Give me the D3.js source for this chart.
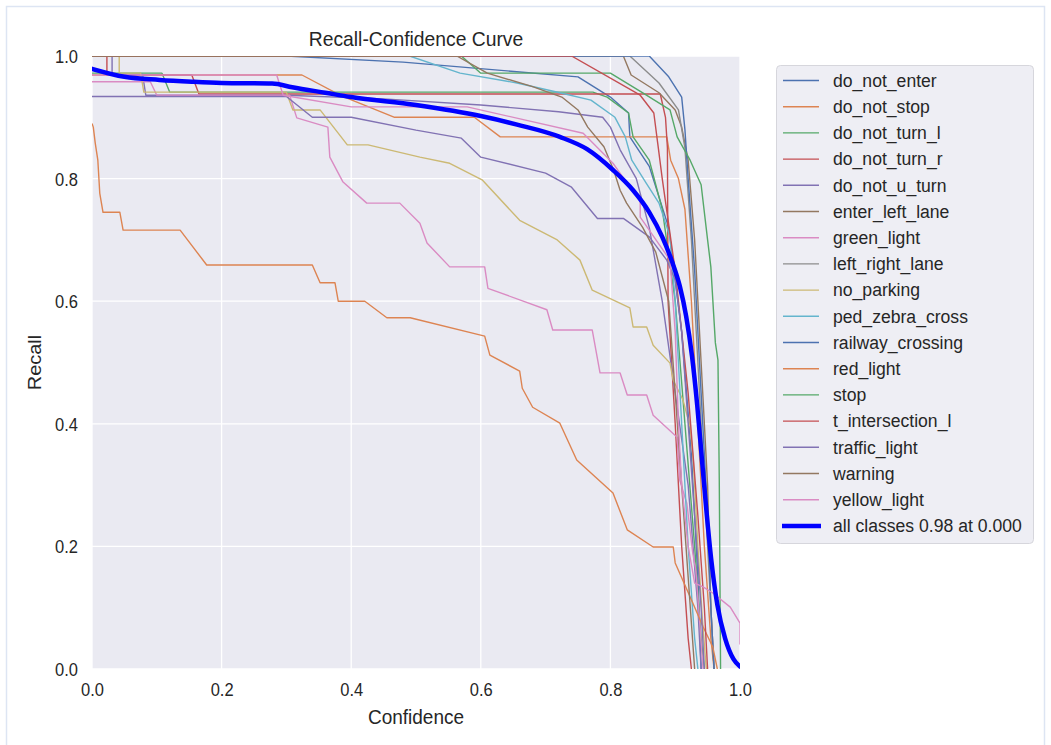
<!DOCTYPE html>
<html><head><meta charset="utf-8">
<script src="https://cdn.jsdelivr.net/npm/d3@7"></script>
<style>
body{margin:0;background:#fff;}
text{font-family:"Liberation Sans",Arial,sans-serif;fill:#262626;}
</style></head>
<body>
<svg id="chart" width="1051" height="745"></svg>
<script>
// ---------- data (confidence, recall) ----------
const classNames = ["do_not_enter","do_not_stop","do_not_turn_l","do_not_turn_r","do_not_u_turn","enter_left_lane","green_light","left_right_lane","no_parking","ped_zebra_cross","railway_crossing","red_light","stop","t_intersection_l","traffic_light","warning","yellow_light"];
const do_not_enter = [[0,1],[0.3,1],[0.48,0.99],[0.75,0.966],[0.8,0.933],[0.828,0.907],[0.83,0.868],[0.86,0.82],[0.89,0.72],[0.91,0.55],[0.925,0.35],[0.935,0.15],[0.94,0]];
const do_not_stop = [[0,0.969],[0.324,0.969],[0.385,0.935],[0.467,0.9],[0.59,0.9],[0.63,0.868],[0.887,0.868],[0.893,0.83],[0.905,0.8],[0.915,0.75],[0.925,0.6],[0.935,0.4],[0.945,0.2],[0.955,0.05],[0.96,0]];
const do_not_turn_l = [[0,0.972],[0.108,0.972],[0.12,0.941],[0.773,0.941],[0.795,0.933],[0.828,0.907],[0.835,0.868],[0.86,0.83],[0.88,0.75],[0.9,0.6],[0.915,0.4],[0.93,0.2],[0.94,0.05],[0.945,0]];
const do_not_turn_r = [[0,1],[0.023,1],[0.023,0.969],[0.154,0.969],[0.165,0.938],[0.877,0.938],[0.885,0.9],[0.888,0.85],[0.889,0.6],[0.9,0.4],[0.91,0.2],[0.92,0.05],[0.925,0]];
const do_not_u_turn = [[0,1],[0.031,1],[0.031,0.97],[0.078,0.97],[0.083,0.936],[0.3,0.936],[0.45,0.93],[0.6,0.92],[0.72,0.909],[0.788,0.9],[0.8,0.884],[0.815,0.847],[0.84,0.8],[0.86,0.72],[0.88,0.6],[0.9,0.45],[0.92,0.3],[0.935,0.1],[0.94,0]];
const enter_left_lane = [[0,1],[0.82,1],[0.832,0.969],[0.875,0.94],[0.9,0.912],[0.91,0.884],[0.92,0.83],[0.93,0.7],[0.94,0.5],[0.95,0.3],[0.955,0.1],[0.96,0]];
const green_light = [[0,0.958],[0.09,0.958],[0.1,0.936],[0.305,0.936],[0.316,0.899],[0.364,0.884],[0.367,0.835],[0.387,0.795],[0.424,0.76],[0.475,0.76],[0.506,0.727],[0.517,0.695],[0.552,0.656],[0.606,0.656],[0.611,0.621],[0.702,0.586],[0.711,0.553],[0.772,0.553],[0.784,0.483],[0.815,0.483],[0.826,0.447],[0.856,0.447],[0.866,0.414],[0.903,0.378],[0.907,0.308],[0.918,0.27],[0.927,0.19],[0.932,0.16],[0.943,0]];
const left_right_lane = [[0,1],[0.83,1],[0.875,0.956],[0.905,0.912],[0.915,0.85],[0.925,0.7],[0.935,0.5],[0.945,0.3],[0.955,0.1],[0.96,0]];
const no_parking = [[0,1],[0.042,1],[0.042,0.972],[0.075,0.972],[0.08,0.941],[0.3,0.941],[0.31,0.912],[0.352,0.912],[0.394,0.855],[0.426,0.855],[0.506,0.835],[0.552,0.825],[0.602,0.798],[0.66,0.732],[0.718,0.7],[0.753,0.667],[0.772,0.618],[0.83,0.589],[0.835,0.558],[0.856,0.558],[0.866,0.528],[0.892,0.499],[0.897,0.471],[0.912,0.439],[0.923,0.395],[0.928,0.34],[0.935,0.2],[0.942,0.08],[0.948,0]];
const ped_zebra_cross = [[0,1],[0.49,1],[0.568,0.972],[0.656,0.956],[0.722,0.94],[0.77,0.928],[0.807,0.9],[0.823,0.868],[0.833,0.83],[0.855,0.793],[0.875,0.76],[0.892,0.705],[0.9,0.6],[0.91,0.4],[0.92,0.2],[0.93,0.05],[0.935,0]];
const railway_crossing = [[0,1],[0.86,1],[0.89,0.966],[0.91,0.933],[0.915,0.88],[0.92,0.8],[0.93,0.65],[0.94,0.45],[0.95,0.25],[0.955,0.1],[0.96,0]];
const red_light = [[0,0.89],[0.002,0.884],[0.005,0.858],[0.009,0.83],[0.012,0.776],[0.017,0.745],[0.043,0.745],[0.048,0.716],[0.136,0.716],[0.177,0.659],[0.34,0.659],[0.352,0.63],[0.375,0.63],[0.38,0.6],[0.421,0.6],[0.455,0.573],[0.491,0.573],[0.606,0.543],[0.614,0.512],[0.66,0.486],[0.664,0.458],[0.68,0.427],[0.722,0.401],[0.748,0.341],[0.804,0.287],[0.826,0.227],[0.866,0.199],[0.897,0.199],[0.9,0.173],[0.927,0.108],[0.943,0.069],[0.958,0.036],[0.965,0]];
const stop = [[0,1],[0.57,1],[0.6,0.972],[0.8,0.972],[0.85,0.94],[0.892,0.912],[0.903,0.868],[0.923,0.83],[0.94,0.79],[0.95,0.7],[0.955,0.656],[0.962,0.532],[0.966,0.504],[0.968,0.31],[0.97,0]];
const t_intersection_l = [[0,1],[0.74,1],[0.846,0.936],[0.867,0.907],[0.873,0.858],[0.88,0.8],[0.9,0.65],[0.92,0.45],[0.935,0.25],[0.945,0.1],[0.95,0]];
const traffic_light = [[0,0.934],[0.3,0.934],[0.34,0.9],[0.4,0.9],[0.5,0.879],[0.57,0.866],[0.6,0.835],[0.7,0.809],[0.74,0.786],[0.78,0.735],[0.82,0.735],[0.86,0.705],[0.887,0.667],[0.9,0.635],[0.91,0.55],[0.92,0.4],[0.93,0.25],[0.94,0.1],[0.945,0]];
const warning = [[0,1],[0.563,1],[0.61,0.972],[0.68,0.95],[0.725,0.933],[0.75,0.912],[0.765,0.884],[0.79,0.852],[0.805,0.814],[0.815,0.781],[0.825,0.76],[0.85,0.72],[0.87,0.68],[0.89,0.6],[0.9,0.45],[0.91,0.3],[0.92,0.15],[0.93,0]];
const yellow_light = [[0,0.969],[0.285,0.969],[0.295,0.936],[0.4,0.917],[0.579,0.917],[0.758,0.874],[0.804,0.825],[0.83,0.786],[0.846,0.765],[0.846,0.737],[0.892,0.667],[0.9,0.55],[0.905,0.4],[0.91,0.3],[0.92,0.2],[0.93,0.14],[0.943,0.134],[0.958,0.124],[0.985,0.101],[1.0,0.075],[1.0,0.04]];
const all_classes = [[0,0.979],[0.05,0.966],[0.104,0.961],[0.154,0.958],[0.2,0.956],[0.278,0.955],[0.309,0.949],[0.36,0.94],[0.4,0.933],[0.5,0.92],[0.6,0.902],[0.656,0.888],[0.722,0.868],[0.764,0.848],[0.804,0.814],[0.835,0.781],[0.86,0.745],[0.88,0.705],[0.895,0.665],[0.907,0.625],[0.917,0.575],[0.926,0.51],[0.934,0.43],[0.941,0.345],[0.948,0.26],[0.956,0.175],[0.965,0.105],[0.977,0.05],[0.99,0.016],[1.0,0.004]];
const allLabel = "all classes 0.98 at 0.000";
const classCurves = [do_not_enter,do_not_stop,do_not_turn_l,do_not_turn_r,do_not_u_turn,enter_left_lane,green_light,left_right_lane,no_parking,ped_zebra_cross,railway_crossing,red_light,stop,t_intersection_l,traffic_light,warning,yellow_light];
const xTicks = [0,0.2,0.4,0.6,0.8,1.0];
const yTicks = [0,0.2,0.4,0.6,0.8,1.0];
const palette = ["#4C72B0","#DD8452","#55A868","#C44E52","#8172B3","#937860","#DA8BC3","#8C8C8C","#CCB974","#64B5CD"];

// ---------- drawing ----------
const svg = d3.select("#chart");
const L = 92, R = 740, T = 56, B = 669;
const x = d3.scaleLinear().domain([0,1]).range([L,R]);
const y = d3.scaleLinear().domain([0,1]).range([B,T]);
const color = i => palette[i % palette.length];
const SY = 1.13;

svg.append("rect").attr("x",6.5).attr("y",6.5).attr("width",1038).attr("height",745)
  .attr("fill","#fff").attr("stroke","#dde5f3").attr("stroke-width",1.5);

svg.append("rect").attr("x",L).attr("y",T).attr("width",R-L).attr("height",B-T).attr("fill","#EAEAF2");
svg.append("defs").append("clipPath").attr("id","clip")
  .append("rect").attr("x",L).attr("y",T).attr("width",R-L).attr("height",B-T);

// grid
svg.append("g").selectAll("line").data(xTicks).join("line")
  .attr("x1",d=>x(d)).attr("x2",d=>x(d)).attr("y1",T).attr("y2",B)
  .attr("stroke","#fff").attr("stroke-width",1.3);
svg.append("g").selectAll("line").data(yTicks).join("line")
  .attr("y1",d=>y(d)).attr("y2",d=>y(d)).attr("x1",L).attr("x2",R)
  .attr("stroke","#fff").attr("stroke-width",1.3);

// axes
const xAxis = svg.append("g").attr("transform",`translate(0,${B})`)
  .call(d3.axisBottom(x).tickValues(xTicks).tickFormat(d3.format(".1f")).tickSize(0).tickPadding(0));
xAxis.select(".domain").remove();
xAxis.selectAll("text").attr("font-size",16.5).attr("fill","#262626").attr("dy",null).attr("y",0)
  .attr("transform",`translate(0,27) scale(1,${SY})`);
const yAxis = svg.append("g").attr("transform",`translate(${L},0)`)
  .call(d3.axisLeft(y).tickValues(yTicks).tickFormat(d3.format(".1f")).tickSize(0).tickPadding(0));
yAxis.select(".domain").remove();
yAxis.selectAll("text").attr("font-size",16.5).attr("fill","#262626").attr("x",0).attr("dy",null)
  .attr("transform",`translate(-14,6.5) scale(1,${SY})`);
svg.selectAll(".tick text").style("font-family","'Liberation Sans',Arial,sans-serif");

// curves
const line = d3.line().x(d=>x(d[0])).y(d=>y(d[1]));
const plot = svg.append("g").attr("clip-path","url(#clip)");
plot.selectAll("path.cls").data(classCurves).join("path").attr("class","cls")
  .attr("d",line).attr("fill","none").attr("stroke",(d,i)=>color(i)).attr("stroke-width",1.4)
  .attr("stroke-linejoin","round");
const smooth = d3.line().x(d=>x(d[0])).y(d=>y(d[1])).curve(d3.curveMonotoneX);
plot.append("path").attr("d",smooth(all_classes)).attr("fill","none")
  .attr("stroke","#0000FF").attr("stroke-width",4.5).attr("stroke-linecap","round");

// titles
svg.append("text").attr("text-anchor","middle").attr("font-size",19.3)
  .attr("transform",`translate(${(L+R)/2},46) scale(1,1.02)`).text("Recall-Confidence Curve");
svg.append("text").attr("text-anchor","middle").attr("font-size",19)
  .attr("transform",`translate(${(L+R)/2},724) scale(1,1.05)`).text("Confidence");
svg.append("text").attr("text-anchor","middle").attr("font-size",19)
  .attr("transform",`translate(41,${(T+B)/2}) rotate(-90) scale(1.05,1)`).text("Recall");

// legend
const lg = svg.append("g");
lg.append("rect").attr("x",776.5).attr("y",65.5).attr("width",257).attr("height",478).attr("rx",4)
  .attr("fill","#EEEEF4").attr("stroke","#d6d6dc").attr("stroke-width",1);
const items = classNames.map((n,i)=>({name:n,color:color(i),w:1.4})).concat([{name:allLabel,color:"#0000FF",w:4.5}]);
const row = lg.selectAll("g.it").data(items).join("g").attr("class","it")
  .attr("transform",(d,i)=>`translate(0,${80.5+i*26.2})`);
row.append("line").attr("x1",d=>d.w>2?782:783).attr("x2",d=>d.w>2?821:819)
  .attr("stroke",d=>d.color).attr("stroke-width",d=>d.w).attr("stroke-linecap","butt");
row.append("text").attr("font-size",17.6).attr("transform",`translate(833,6.3) scale(1,1.07)`).text(d=>d.name);
</script>
</body></html>
